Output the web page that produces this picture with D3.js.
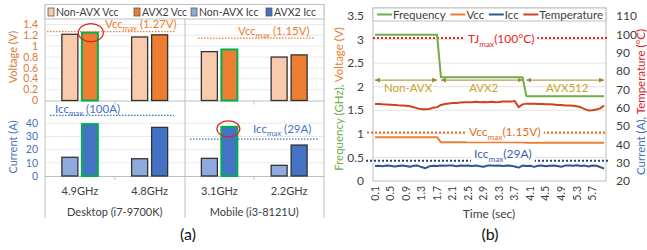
<!DOCTYPE html>
<html><head><meta charset="utf-8">
<script src="https://cdn.jsdelivr.net/npm/d3@7"></script>
<style>
body{margin:0;background:#fff}
svg{display:block}
text{font-family:Lato,'Liberation Sans',Arial,sans-serif}
</style>
</head><body>
<svg id="c" width="647" height="250"></svg>
<script>
// ---------------- DATA (a) ----------------
const platforms = ["Desktop (i7-9700K)", "Mobile (i3-8121U)"];
const freqLabels = ["4.9GHz", "4.8GHz", "3.1GHz", "2.2GHz"];
const nonAvxVcc = [1.22, 1.17, 0.90, 0.80];
const avx2Vcc   = [1.25, 1.21, 0.94, 0.84];
const nonAvxIcc = [14.2, 13.1, 13.4, 8.1];
const avx2Icc   = [39.4, 36.9, 37.3, 23.5];
const highlighted = [true, false, true, false];
const voltTicks = [0, 0.2, 0.4, 0.6, 0.8, 1.0, 1.2, 1.4];
const voltTickLabels = ["0", "0.2", "0.4", "0.6", "0.8", "1", "1.2", "1.4"];
const currTicks = [0, 10, 20, 30, 40];
const legendA = ["Non-AVX Vcc", "AVX2 Vcc", "Non-AVX Icc", "AVX2 Icc"];

// ---------------- DATA (b) ----------------
const times = ["0.1","0.2","0.3","0.4","0.5","0.6","0.7","0.8","0.9","1.0",
  "1.1","1.2","1.3","1.4","1.5","1.6","1.7","1.8","1.9","2.0",
  "2.1","2.2","2.3","2.4","2.5","2.6","2.7","2.8","2.9","3.0",
  "3.1","3.2","3.3","3.4","3.5","3.6","3.7","3.8","3.9","4.0",
  "4.1","4.2","4.3","4.4","4.5","4.6","4.7","4.8","4.9","5.0",
  "5.1","5.2","5.3","5.4","5.5","5.6","5.7","5.8","5.9","6.0"];
const frequency = [3.1,3.1,3.1,3.1,3.1,3.1,3.1,3.1,3.1,3.1,
  3.1,3.1,3.1,3.1,3.1,3.1,3.1,2.2,2.2,2.2,
  2.2,2.2,2.2,2.2,2.2,2.2,2.2,2.2,2.2,2.2,
  2.2,2.2,2.2,2.2,2.2,2.2,2.2,2.2,2.2,1.8,
  1.8,1.8,1.8,1.8,1.8,1.8,1.8,1.8,1.8,1.8,
  1.8,1.8,1.8,1.8,1.8,1.8,1.8,1.8,1.8,1.8];
const vcc = [0.93,0.93,0.93,0.93,0.93,0.93,0.93,0.93,0.93,0.93,
  0.93,0.93,0.93,0.93,0.93,0.93,0.93,0.82,0.82,0.82,
  0.82,0.82,0.82,0.82,0.82,0.82,0.82,0.82,0.82,0.82,
  0.82,0.82,0.82,0.82,0.82,0.82,0.82,0.82,0.82,0.81,
  0.81,0.81,0.81,0.81,0.81,0.81,0.81,0.81,0.81,0.81,
  0.81,0.81,0.81,0.81,0.81,0.81,0.81,0.81,0.81,0.81];
const icc = [28.2,28.3,28.1,28.4,28.3,27.9,28.2,28.5,28.2,27.8,
  28.3,28.4,27.6,27.0,28.0,28.3,28.2,28.4,28.3,28.5,
  28.4,28.1,28.4,28.3,28.5,28.2,28.4,28.1,27.8,28.4,
  28.5,28.3,28.4,28.2,28.5,28.3,27.9,27.3,28.4,28.2,
  28.3,27.7,28.3,28.4,28.1,28.3,28.4,28.2,27.8,28.4,
  28.5,28.3,28.6,28.2,28.4,27.9,28.5,28.3,27.6,26.8];
const temperature = [62.0,62.0,61.8,61.7,61.6,61.5,61.3,61.2,61.0,60.8,
  60.2,59.6,59.2,59.1,59.3,60.0,60.3,61.5,62.0,62.3,
  62.5,62.6,62.8,63.0,62.9,63.0,63.2,63.0,63.1,63.0,
  63.2,63.0,63.1,63.3,63.4,63.3,63.6,60.3,61.8,62.2,
  62.2,62.1,62.0,62.0,61.9,61.8,61.7,61.5,61.4,61.2,
  61.2,61.0,60.8,60.2,59.2,58.5,58.6,59.0,59.6,61.2];
const leftTicks = [0, 0.5, 1, 1.5, 2, 2.5, 3, 3.5];
const rightTicks = [20, 30, 40, 50, 60, 70, 80, 90, 100, 110];
const phases = ["Non-AVX", "AVX2", "AVX512"];
const phaseStart = ["0.1", "1.8", "4.0"];
const phaseEnd = ["1.7", "3.9", "6.0"];
const legendB = ["Frequency", "Vcc", "Icc", "Temperature"];

// ---------------- STYLE ----------------
const C_NAV = "#f8cbad", C_AV = "#ed7d31", C_NAI = "#8faadc", C_AI = "#4472c4";
const C_TXT = "#404040", C_AX = "#bfbfbf", C_GRID = "#ebebeb";
const C_VOLT = "#d9793a", C_CURR = "#4a72c0";
const C_FREQ = "#70ad47", C_VCC = "#ed7d31", C_ICC = "#2f5597", C_TEMP = "#d4401c";
const C_PHASE_LINE = "#a4862a", C_PHASE_TXT = "#c9a227";

const svg = d3.select("#c");
const defs = svg.append("defs");
defs.append("marker").attr("id", "ah").attr("viewBox", "0 0 10 10")
  .attr("refX", 10).attr("refY", 5).attr("markerWidth", 5).attr("markerHeight", 5)
  .attr("markerUnits", "userSpaceOnUse").attr("orient", "auto-start-reverse")
  .append("path").attr("d", "M0,0L10,5L0,10z").attr("fill", C_PHASE_LINE);

function subLabel(g, x, y, main, sub, rest, color, size, bg) {
  const t = g.append("text").attr("x", x).attr("y", y).attr("fill", color).attr("font-size", size);
  t.append("tspan").text(main);
  t.append("tspan").attr("dy", size * 0.3).attr("font-size", size * 0.68).text(sub);
  t.append("tspan").attr("dy", -size * 0.3).text(rest);
  if (bg) {
    const b = t.node().getBBox();
    g.insert("rect", () => t.node()).attr("x", b.x - 3).attr("y", b.y).attr("width", b.width + 6)
      .attr("height", b.height).attr("fill", "#fff");
  }
  return t;
}

// ================= CHART (a) =================
const gA = svg.append("g");
const xA = d3.scaleBand().domain(freqLabels).range([45, 324]);
const barW = 16, barGap = 4;
const cx = d => xA(d) + xA.bandwidth() / 2;
const yV = d3.scaleLinear().domain([0, 1.4]).range([100.5, 24.5]);
const yI = d3.scaleLinear().domain([0, 40]).range([176, 123.3]);

// gridlines
gA.selectAll(".gv").data(voltTicks.slice(1)).join("line")
  .attr("x1", 45).attr("x2", 324).attr("y1", d => yV(d)).attr("y2", d => yV(d))
  .attr("stroke", C_GRID);
gA.selectAll(".gi").data(currTicks.slice(1)).join("line")
  .attr("x1", 45).attr("x2", 324).attr("y1", d => yI(d)).attr("y2", d => yI(d))
  .attr("stroke", C_GRID);

// axes lines
gA.append("line").attr("x1", 45).attr("x2", 324).attr("y1", yV(0) + 0.5).attr("y2", yV(0) + 0.5).attr("stroke", C_AX);
gA.append("line").attr("x1", 45).attr("x2", 324).attr("y1", yI(0) + 0.5).attr("y2", yI(0) + 0.5).attr("stroke", C_AX);
[45, 185, 324].forEach(x => gA.append("line").attr("x1", x).attr("x2", x).attr("y1", 5).attr("y2", 218).attr("stroke", C_AX));
[115, 254].forEach(x => {
  gA.append("line").attr("x1", x).attr("x2", x).attr("y1", yV(0) + 0.5).attr("y2", yV(0) + 4).attr("stroke", C_AX);
  gA.append("line").attr("x1", x).attr("x2", x).attr("y1", yI(0) + 0.5).attr("y2", yI(0) + 4).attr("stroke", C_AX);
});

// bars
function bars(vals, fill, y, left) {
  gA.selectAll(null).data(vals).join("rect")
    .attr("x", (d, i) => left ? cx(freqLabels[i]) - barGap / 2 - barW : cx(freqLabels[i]) + barGap / 2)
    .attr("y", d => y(d)).attr("width", barW).attr("height", d => y(0) - y(d))
    .attr("fill", fill)
    .attr("stroke", (d, i) => (!left && highlighted[i]) ? "#00b050" : "#333")
    .attr("stroke-width", (d, i) => (!left && highlighted[i]) ? 2 : 1.3);
}
bars(nonAvxVcc, C_NAV, yV, true);
bars(avx2Vcc, C_AV, yV, false);
bars(nonAvxIcc, C_NAI, yI, true);
bars(avx2Icc, C_AI, yI, false);

// tick labels
gA.selectAll(".tv").data(voltTicks).join("text")
  .attr("x", 38).attr("y", d => yV(d)).attr("dy", "0.35em").attr("text-anchor", "end")
  .attr("font-size", 10.5).attr("fill", C_VOLT).text((d, i) => voltTickLabels[i]);
gA.selectAll(".ti").data(currTicks).join("text")
  .attr("x", 38).attr("y", d => yI(d)).attr("dy", "0.35em").attr("text-anchor", "end")
  .attr("font-size", 10.5).attr("fill", C_CURR).text(d => d);
gA.append("text").attr("transform", "translate(17,57) rotate(-90)").attr("text-anchor", "middle")
  .attr("font-size", 11).attr("fill", C_VOLT).text("Voltage (V)");
gA.append("text").attr("transform", "translate(17,147) rotate(-90)").attr("text-anchor", "middle")
  .attr("font-size", 11).attr("fill", C_CURR).text("Current (A)");

// category labels
gA.selectAll(".cl").data(freqLabels).join("text")
  .attr("x", d => cx(d)).attr("y", 195).attr("text-anchor", "middle")
  .attr("font-size", 11).attr("fill", C_TXT).text(d => d);
gA.selectAll(".pl").data(platforms).join("text")
  .attr("x", (d, i) => (cx(freqLabels[2 * i]) + cx(freqLabels[2 * i + 1])) / 2).attr("y", 216)
  .attr("text-anchor", "middle").attr("font-size", 11).attr("fill", C_TXT).text(d => d);

// reference lines (a)
gA.append("line").attr("x1", 47).attr("x2", 176).attr("y1", yV(1.27)).attr("y2", yV(1.27))
  .attr("stroke", C_AV).attr("stroke-width", 1.2).attr("stroke-dasharray", "1.5,1.5");
subLabel(gA, 105, 28, "Vcc", "max", " (1.27V)", C_AV, 11.5, false);
gA.append("line").attr("x1", 198).attr("x2", 315).attr("y1", yV(1.15)).attr("y2", yV(1.15))
  .attr("stroke", C_AV).attr("stroke-width", 1.2).attr("stroke-dasharray", "1.5,1.5");
subLabel(gA, 238, 35, "Vcc", "max", " (1.15V)", C_AV, 11.5, false);
gA.append("line").attr("x1", 50).attr("x2", 174).attr("y1", yI(46)).attr("y2", yI(46))
  .attr("stroke", C_AI).attr("stroke-width", 1.2).attr("stroke-dasharray", "1.5,1.5");
subLabel(gA, 55, 113, "Icc", "max", " (100A)", C_AI, 11.5, false);
gA.append("line").attr("x1", 190).attr("x2", 318).attr("y1", yI(28)).attr("y2", yI(28))
  .attr("stroke", C_AI).attr("stroke-width", 1.2).attr("stroke-dasharray", "1.5,1.5");
subLabel(gA, 253, 133, "Icc", "max", " (29A)", C_AI, 11.5, false);

// red ellipses
gA.append("ellipse").attr("cx", cx(freqLabels[0]) + barGap / 2 + barW / 2 + 1).attr("cy", yV(avx2Vcc[0]))
  .attr("rx", 12.5).attr("ry", 9).attr("fill", "none").attr("stroke", "#e0201e").attr("stroke-width", 1.2);
gA.append("ellipse").attr("cx", cx(freqLabels[2]) + barGap / 2 + barW / 2 - 1).attr("cy", yI(avx2Icc[2]) + 2)
  .attr("rx", 11.5).attr("ry", 8).attr("fill", "none").attr("stroke", "#e0201e").attr("stroke-width", 1.2);

// legend (a)
gA.append("rect").attr("x", 45).attr("y", 4.5).attr("width", 279).attr("height", 14.5)
  .attr("fill", "#fff").attr("stroke", C_AX);
const legAx = [48, 134, 191, 266];
const legAc = [C_NAV, C_AV, C_NAI, C_AI];
legendA.forEach((t, i) => {
  gA.append("rect").attr("x", legAx[i]).attr("y", 8).attr("width", 6).attr("height", 8)
    .attr("fill", legAc[i]).attr("stroke", "#595959").attr("stroke-width", 0.8);
  gA.append("text").attr("x", legAx[i] + 8).attr("y", 16).attr("font-size", 10.5).attr("fill", C_TXT).text(t);
});

gA.append("text").attr("x", 188).attr("y", 240).attr("text-anchor", "middle").attr("font-size", 16).attr("fill", "#111").text("(a)");

// ================= CHART (b) =================
const gB = svg.append("g");
const L = 373, R = 606, T = 8, B = 181;
const xB = d3.scaleBand().domain(times).range([L, R]);
const xc = t => xB(t) + xB.bandwidth() / 2;
const yL = d3.scaleLinear().domain([0, 3.5]).range([B, 16]);
const yR = d3.scaleLinear().domain([20, 110]).range([B, 16]);

gB.selectAll(".gb").data(leftTicks.slice(1)).join("line")
  .attr("x1", L).attr("x2", R).attr("y1", d => yL(d)).attr("y2", d => yL(d)).attr("stroke", "#e3e3e3");
gB.append("rect").attr("x", L).attr("y", T).attr("width", R - L).attr("height", B - T)
  .attr("fill", "none").attr("stroke", C_AX);

// reference lines (b)
const refG = gB.append("g");
refG.append("line").attr("x1", L).attr("x2", 608).attr("y1", yR(98)).attr("y2", yR(98))
  .attr("stroke", "#e8231e").attr("stroke-width", 2).attr("stroke-dasharray", "2,2");
refG.append("line").attr("x1", 367).attr("x2", R).attr("y1", yL(1.03)).attr("y2", yL(1.03))
  .attr("stroke", "#e46c1e").attr("stroke-width", 2).attr("stroke-dasharray", "2,2");
refG.append("line").attr("x1", 366).attr("x2", 608).attr("y1", yR(31.1)).attr("y2", yR(31.1))
  .attr("stroke", "#203f84").attr("stroke-width", 2).attr("stroke-dasharray", "2,2");

// series lines
function series(vals, y, color) {
  gB.append("path").datum(vals)
    .attr("d", d3.line().x((d, i) => xc(times[i])).y(d => y(d)))
    .attr("fill", "none").attr("stroke", color).attr("stroke-width", 2).attr("stroke-linejoin", "round");
}
series(temperature, yR, C_TEMP);
series(vcc, yL, C_VCC);
series(icc, yR, C_ICC);
series(frequency, yL, C_FREQ);

subLabel(gB, 468, 43, "TJ", "max", "(100°C)", "#e8231e", 12, true);
subLabel(gB, 469, 136, "Vcc", "max", "(1.15V)", "#e46c1e", 12, true);
subLabel(gB, 474, 158, "Icc", "max", "(29A)", "#3c5fa8", 12, true);

// phase arrows
phases.forEach((p, i) => {
  const x1 = xc(phaseStart[i]), x2 = xc(phaseEnd[i]);
  gB.append("line").attr("x1", x1).attr("x2", x2).attr("y1", yL(2.14)).attr("y2", yL(2.14))
    .attr("stroke", C_PHASE_LINE).attr("stroke-width", 1)
    .attr("marker-start", "url(#ah)").attr("marker-end", "url(#ah)");
  gB.append("text").attr("x", (x1 + x2) / 2 + 2).attr("y", 92).attr("text-anchor", "middle")
    .attr("font-size", 11.5).attr("fill", C_PHASE_TXT).text(p);
});

// axes labels (b)
gB.selectAll(".tl").data(leftTicks).join("text")
  .attr("x", 364).attr("y", d => yL(d)).attr("dy", "0.35em").attr("text-anchor", "end")
  .attr("font-size", 12).attr("fill", C_TXT).text(d => d);
gB.selectAll(".tr").data(rightTicks).join("text")
  .attr("x", 616).attr("y", d => yR(d)).attr("dy", "0.35em").attr("text-anchor", "start")
  .attr("font-size", 12).attr("fill", C_TXT).text(d => d);
gB.selectAll(".tx").data(times.filter((t, i) => i % 4 === 0)).join("text")
  .attr("transform", d => `translate(${xc(d)},186) rotate(-90)`).attr("dy", "0.35em")
  .attr("text-anchor", "end").attr("font-size", 10.5).attr("fill", C_TXT).text(d => d);
gB.append("text").attr("x", 489).attr("y", 218).attr("text-anchor", "middle")
  .attr("font-size", 12).attr("fill", C_TXT).text("Time (sec)");

const lt = gB.append("text").attr("transform", "translate(343,99) rotate(-90)").attr("text-anchor", "middle").attr("font-size", 11.5);
lt.append("tspan").attr("fill", C_FREQ).text("Frequency (GHz), ");
lt.append("tspan").attr("fill", C_VCC).text("Voltage (V)");
const rt = gB.append("text").attr("transform", "translate(645,102) rotate(-90)").attr("text-anchor", "middle").attr("font-size", 11.5);
rt.append("tspan").attr("fill", C_AI).text("Current (A), ");
rt.append("tspan").attr("fill", "#e0201e").text("Temperature (°C)");

// legend (b) — laid out to fill the box evenly
gB.append("rect").attr("x", L).attr("y", T).attr("width", R - L).attr("height", 13)
  .attr("fill", "#fff").attr("stroke", C_AX);
const legBc = [C_FREQ, C_VCC, C_ICC, C_TEMP];
const lineLen = 15;
const legTexts = legendB.map(t => gB.append("text").attr("y", 18.5).attr("font-size", 11.5).attr("fill", C_TXT).text(t));
const widths = legTexts.map(t => t.node().getComputedTextLength());
const totalW = d3.sum(widths) + legendB.length * (lineLen + 1);
const itemGap = ((R - 3) - (L + 4) - totalW) / (legendB.length - 1);
let lx = L + 4;
legendB.forEach((t, i) => {
  gB.append("line").attr("x1", lx).attr("x2", lx + lineLen).attr("y1", 14.5).attr("y2", 14.5)
    .attr("stroke", legBc[i]).attr("stroke-width", 2);
  legTexts[i].attr("x", lx + lineLen + 1);
  lx += lineLen + 1 + widths[i] + itemGap;
});

gB.append("text").attr("x", 490).attr("y", 240).attr("text-anchor", "middle").attr("font-size", 16).attr("fill", "#111").text("(b)");
</script>
</body></html>
